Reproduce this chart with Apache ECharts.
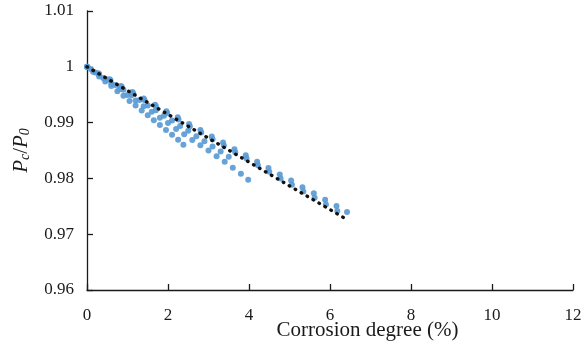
<!DOCTYPE html>
<html>
<head>
<meta charset="utf-8">
<script src="https://cdn.jsdelivr.net/npm/echarts@6/dist/echarts.min.js"></script>
<style>
  html, body { margin: 0; padding: 0; background: #fff; }
  #chart { width: 584px; height: 349px; }
</style>
</head>
<body>
<div id="chart"></div>
<script>
// Specimen readings: corrosion degree (%) and residual capacity ratio Pc/P0
const specimenA = [
  [0, 1.0000], [0.28, 0.99885], [0.56, 0.99776], [0.84, 0.99658], [1.12, 0.99548],
  [1.40, 0.99430], [1.68, 0.99322], [1.96, 0.99204], [2.24, 0.99095], [2.52, 0.98976],
  [2.80, 0.98868], [3.08, 0.98750], [3.36, 0.98642], [3.64, 0.98524], [3.92, 0.98415],
  [4.20, 0.98300], [4.48, 0.98188], [4.76, 0.98070], [5.04, 0.97961], [5.32, 0.97843],
  [5.60, 0.97734], [5.88, 0.97617], [6.16, 0.97507], [6.42, 0.97400]
];
const specimenB = [
  [0.02, 0.99990], [0.30, 0.99873], [0.58, 0.99760], [0.86, 0.99638], [1.14, 0.99525],
  [1.42, 0.99404], [1.70, 0.99291], [1.98, 0.99170], [2.26, 0.99057], [2.54, 0.98936],
  [2.82, 0.98823], [3.10, 0.98702], [3.38, 0.98589], [3.66, 0.98468], [3.94, 0.98355],
  [4.22, 0.98234], [4.50, 0.98121], [4.78, 0.98000], [5.06, 0.97887], [5.34, 0.97766],
  [5.62, 0.97653], [5.90, 0.97532], [6.18, 0.97418]
];
const specimenC = [
  [0, 1.0000], [0.20, 0.99897], [0.40, 0.99800], [0.60, 0.99695], [0.80, 0.99598],
  [1.00, 0.99493], [1.20, 0.99396], [1.40, 0.99291], [1.60, 0.99194], [1.80, 0.99089],
  [2.00, 0.98992], [2.20, 0.98887], [2.40, 0.98790], [2.60, 0.98690], [2.80, 0.98594],
  [3.00, 0.98500], [3.20, 0.98395], [3.40, 0.98300], [3.60, 0.98190], [3.80, 0.98085],
  [3.98, 0.97975]
];
const specimenD = [
  [0, 1.0000], [0.15, 0.99912], [0.30, 0.99828], [0.45, 0.99738], [0.60, 0.99654],
  [0.75, 0.99563], [0.90, 0.99480], [1.05, 0.99389], [1.20, 0.99306], [1.35, 0.99215],
  [1.50, 0.99132], [1.65, 0.99041], [1.80, 0.98958], [1.95, 0.98867], [2.10, 0.98784],
  [2.25, 0.98693], [2.38, 0.98605]
];
const specimenE = [
  [0.10, 0.99955], [0.30, 0.99860], [0.50, 0.99772], [0.70, 0.99676], [0.90, 0.99588],
  [1.10, 0.99492], [1.30, 0.99404], [1.50, 0.99308], [1.70, 0.99220], [1.90, 0.99124],
  [2.10, 0.99036], [2.30, 0.98940], [2.50, 0.98852], [2.70, 0.98756], [2.90, 0.98668],
  [3.10, 0.98572], [3.30, 0.98484], [3.50, 0.98388]
];
// Linear fit through the pooled readings
const fitLine = [[0, 1.0000], [6.40, 0.97270]];

const xTicks = [0, 2, 4, 6, 8, 10, 12];
const yTicks = [0.96, 0.97, 0.98, 0.99, 1, 1.01];

const serif = '"Liberation Serif", "DejaVu Serif", serif';
const ink = '#1a1a1a';
const dotColor = '#5b9bd5';

const chart = echarts.init(document.getElementById('chart'), null, { renderer: 'canvas' });

const scatter = (name, data) => ({
  name,
  type: 'scatter',
  data,
  symbol: 'circle',
  symbolSize: 6,
  itemStyle: { color: dotColor, opacity: 0.92 },
  z: 2,
  silent: true
});

chart.setOption({
  animation: false,
  backgroundColor: '#ffffff',
  grid: { left: 87, right: 11, top: 11, bottom: 59, containLabel: false, outerBoundsMode: 'none' },
  xAxis: {
    type: 'value',
    min: xTicks[0],
    max: xTicks[xTicks.length - 1],
    interval: 2,
    name: 'Corrosion degree (%)',
    nameLocation: 'middle',
    nameGap: 30,
    nameMoveOverlap: false,
    nameTextStyle: { fontFamily: serif, fontSize: 21, color: ink, padding: [0, 0, 0, 75] },
    axisLine: { show: true, lineStyle: { color: ink, width: 1.3 } },
    axisTick: { show: true, inside: true, length: 6, lineStyle: { color: ink, width: 1.3 } },
    axisLabel: {
      fontFamily: serif, fontSize: 17, color: ink, margin: 17,
      formatter: v => (xTicks.includes(v) ? String(v) : '')
    },
    splitLine: { show: false }
  },
  yAxis: {
    type: 'value',
    min: yTicks[0],
    max: yTicks[yTicks.length - 1],
    interval: 0.01,
    name: '{i|P}{sc|c}{n|/}{i|P}{s0|0}',
    nameLocation: 'middle',
    nameRotate: 90,
    nameGap: 49,
    nameMoveOverlap: false,
    nameTextStyle: {
      fontFamily: serif, color: ink, padding: [0, 0, 6, 0],
      rich: {
        i: { fontFamily: serif, fontSize: 21, fontStyle: 'italic', color: ink },
        n: { fontFamily: serif, fontSize: 21, color: ink },
        sc: { fontFamily: serif, fontSize: 14, fontStyle: 'italic', color: ink, verticalAlign: 'bottom', padding: [8, 0, 0, 0] },
        s0: { fontFamily: serif, fontSize: 14, fontStyle: 'italic', color: ink, verticalAlign: 'bottom', padding: [8, 0, 0, 0] }
      }
    },
    axisLine: { show: true, lineStyle: { color: ink, width: 1.3 } },
    axisTick: { show: true, inside: true, length: 6, lineStyle: { color: ink, width: 1.3 } },
    axisLabel: {
      fontFamily: serif, fontSize: 17, color: ink, margin: 13,
      formatter: v => {
        const r = Math.round(v * 100) / 100;
        return r === 1 ? '1' : r.toFixed(2);
      }
    },
    splitLine: { show: false }
  },
  series: [
    scatter('A', specimenA),
    scatter('B', specimenB),
    scatter('C', specimenC),
    scatter('D', specimenD),
    scatter('E', specimenE),
    {
      name: 'Fit',
      type: 'line',
      data: fitLine,
      showSymbol: false,
      symbol: 'none',
      lineStyle: { color: '#111111', width: 3.4, type: [0.5, 6.4], cap: 'round' },
      z: 5,
      silent: true
    }
  ]
});
</script>
</body>
</html>
